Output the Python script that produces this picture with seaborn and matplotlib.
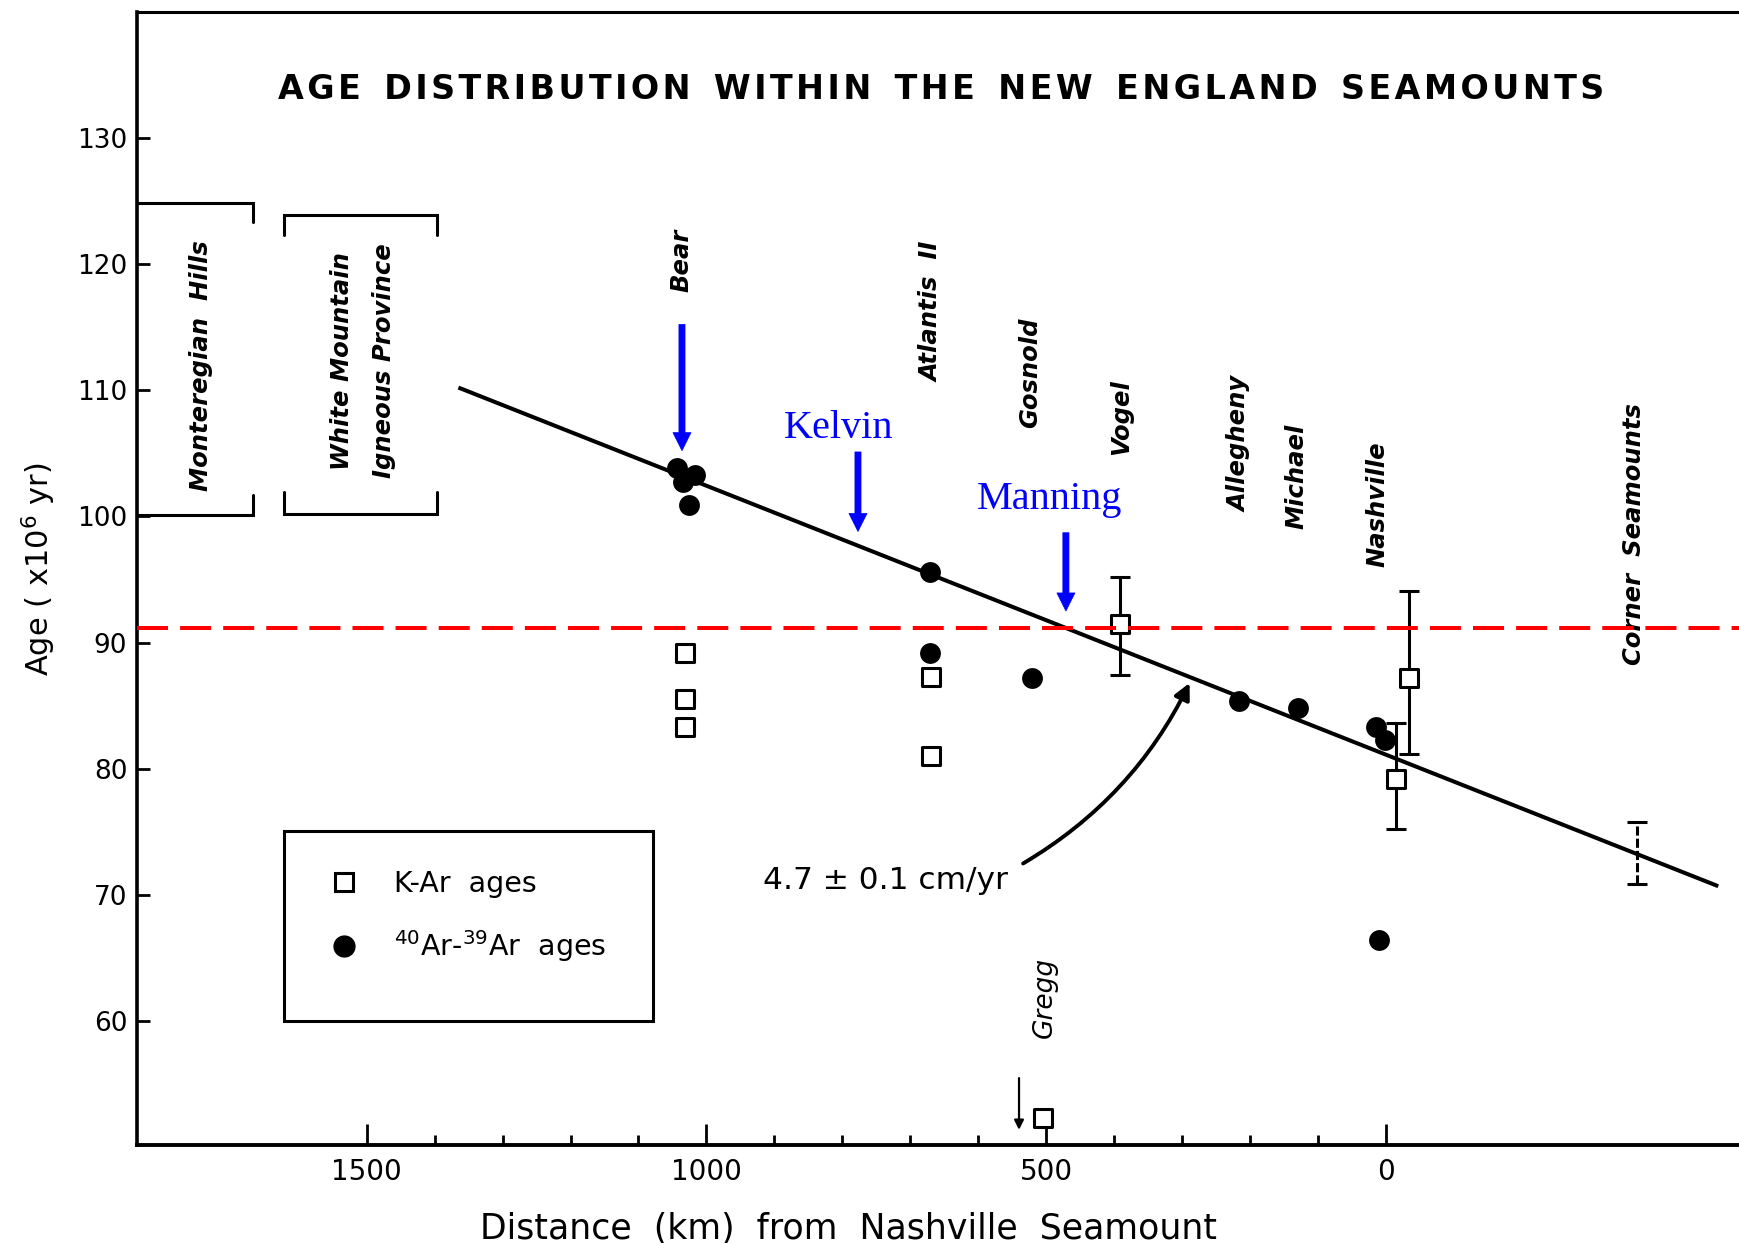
import matplotlib
matplotlib.use("Agg")
import matplotlib.pyplot as plt
from matplotlib.lines import Line2D
from matplotlib.patches import Rectangle
from matplotlib.ticker import FixedLocator, NullFormatter
import seaborn as sns
import pandas as pd

# ---------------- data ----------------
# K-Ar ages (open squares): distance from Nashville Seamount (km), age (Ma)
kar_dist = [1032, 1031, 1031, 670, 669, 392, -15, -34, 505]
kar_age = [89.2, 85.5, 83.3, 87.3, 81.0, 91.5, 79.2, 87.2, 52.3]
# 40Ar-39Ar ages (filled circles)
arar_dist = [1044, 1035, 1017, 1025, 671, 671, 521, 216, 130, 15, 1, 10]
arar_age = [103.8, 102.7, 103.3, 100.9, 95.6, 89.2, 87.2, 85.4, 84.8, 83.3, 82.3, 66.4]
# error bars on some K-Ar ages
err_dist = [392, -15, -34]
err_age = [91.5, 79.2, 87.2]
err_low = [4.1, 4.0, 6.0]
err_high = [3.7, 4.4, 6.9]
# Corner Seamounts age range (no symbol)
corner_dist = [-370]
corner_age = [73.35]
corner_err = [2.45]
# fitted age progression line (4.7 cm/yr)
fit_dist = [1365, -489]
fit_age = [110.2, 70.7]
# red reference age
ref_age = 91.15

# seamount labels
name_text = ["Bear", "Atlantis  II", "Gosnold", "Vogel", "Allegheny",
             "Michael", "Nashville", "Corner  Seamounts"]
name_dist = [1036, 668, 524, 390, 215, 132, 13, -365]
name_age = [120.3, 116.2, 111.4, 107.9, 105.7, 103.2, 101.0, 98.6]

# continental provinces (bracketed age ranges)
mont_top, mont_bottom, mont_right = 124.8, 100.1, 1667
wm_top, wm_bottom, wm_left, wm_right = 123.9, 100.2, 1622, 1397

# blue arrows (added annotations): name, x, arrow tail age, arrow tip age
blue_names = ["", "Kelvin", "Manning"]
blue_dist = [1036, 777, 471]
blue_tail = [115.2, 105.1, 98.7]
blue_tip = [105.2, 98.8, 92.5]
blue_text_dist = [None, 805, 495]
blue_text_age = [None, 106.2, 100.6]

x_ticks_major = [1500, 1000, 500, 0]
x_ticks_minor = [1400, 1300, 1200, 1100, 900, 800, 700, 600, 400, 300, 200, 100]
y_ticks = [60, 70, 80, 90, 100, 110, 120, 130]

title_words = ["AGE", "DISTRIBUTION", "WITHIN", "THE", "NEW", "ENGLAND", "SEAMOUNTS"]

# ---------------- figure ----------------
sns.set_style("white")
plt.rcParams["font.family"] = ["DejaVu Sans"]
plt.rcParams["text.color"] = "black"
plt.rcParams["axes.labelcolor"] = "black"
plt.rcParams["xtick.color"] = "black"
plt.rcParams["ytick.color"] = "black"

fig = plt.figure(figsize=(17.4, 12.43), dpi=100)
ax = fig.add_axes([137 / 1740, 1 - 1145 / 1243, (1740 - 137) / 1740, (1145 - 12) / 1243])
ax.set_xlim(1838, -521)
ax.set_ylim(50.2, 139.95)

for side in ["left", "bottom", "top"]:
    ax.spines[side].set_color("black")
ax.spines["left"].set_linewidth(2.6)
ax.spines["bottom"].set_linewidth(2.8)
ax.spines["top"].set_linewidth(2.2)
ax.spines["right"].set_visible(False)

ax.xaxis.set_major_locator(FixedLocator(x_ticks_major))
ax.xaxis.set_minor_locator(FixedLocator(x_ticks_minor))
ax.xaxis.set_minor_formatter(NullFormatter())
ax.yaxis.set_major_locator(FixedLocator(y_ticks))
ax.tick_params(axis="x", which="major", direction="in", length=15, width=2.0,
               labelsize=20, pad=9, top=False, bottom=True, color="black",
               labelcolor="black")
ax.tick_params(axis="x", which="minor", direction="in", length=7.5, width=2.0,
               top=False, bottom=True, color="black")
ax.tick_params(axis="y", which="major", direction="in", length=9, width=2.0,
               labelsize=19, pad=7, left=True, right=False, color="black",
               labelcolor="black")

# regression line
ax.plot(fit_dist, fit_age, color="black", lw=2.9, zorder=3, solid_capstyle="butt")

# error bars
ax.errorbar(err_dist, err_age, yerr=[err_low, err_high], fmt="none", ecolor="black",
            elinewidth=2.2, capsize=7.2, capthick=2.2, zorder=2)
eb = ax.errorbar(corner_dist, corner_age, yerr=corner_err, fmt="none", ecolor="black",
                 elinewidth=2.2, capsize=7.5, capthick=2.2, zorder=2)
eb[2][0].set_linestyle((0, (3, 1)))

# data points
df_k = pd.DataFrame({"dist": kar_dist, "age": kar_age})
df_a = pd.DataFrame({"dist": arar_dist, "age": arar_age})
sns.scatterplot(data=df_a, x="dist", y="age", marker="o", s=225, color="black",
                edgecolor="black", linewidth=0, ax=ax, zorder=4, legend=False)
sns.scatterplot(data=df_k, x="dist", y="age", marker="s", s=180, color="white",
                edgecolor="black", linewidth=2.2, ax=ax, zorder=4, legend=False)

# red reference line
ax.axhline(ref_age, color="#ff0000", lw=2.9, dashes=(7.7, 3.0), zorder=6)

# brackets
bk = dict(color="black", lw=2.2, zorder=3, solid_joinstyle="miter")
ax.plot([1838, mont_right, mont_right], [mont_top, mont_top, mont_top - 1.5], **bk)
ax.plot([1838, mont_right, mont_right], [mont_bottom, mont_bottom, mont_bottom + 1.6], **bk)
ax.plot([wm_left, wm_left, wm_right, wm_right], [wm_top - 1.6, wm_top, wm_top, wm_top - 1.6], **bk)
ax.plot([wm_left, wm_left, wm_right, wm_right], [wm_bottom + 1.7, wm_bottom, wm_bottom, wm_bottom + 1.7], **bk)

name_kw = dict(rotation=90, ha="center", va="center", fontsize=17.5,
               fontstyle="italic", fontweight="bold", color="black")
ax.text(1744, 111.9, "Monteregian  Hills", **name_kw)
ax.text(1505, 112.3, "White Mountain\nIgneous Province", linespacing=1.95, **name_kw)
for t, d, a in zip(name_text, name_dist, name_age):
    ax.text(d, a, t, **name_kw)
ax.text(502, 61.9, "Gregg", rotation=90, ha="center", va="center", fontsize=19,
        fontstyle="italic", color="black")

# Gregg arrow (age is a minimum)
ax.annotate("", xy=(540, 51.4), xytext=(540, 55.5),
            arrowprops=dict(arrowstyle="-|>", color="black", lw=1.6,
                            mutation_scale=14, shrinkA=0, shrinkB=0), zorder=4)

# rate label and curved arrow
ax.text(917, 70.5, "4.7 \u00b1 0.1 cm/yr", ha="left", va="baseline", fontsize=22.5,
        color="black")
ax.annotate("", xy=(289, 86.8), xytext=(534, 72.5),
            arrowprops=dict(arrowstyle="-|>", color="black", lw=2.8,
                            mutation_scale=24, shrinkA=0, shrinkB=0,
                            connectionstyle="arc3,rad=0.15"), zorder=4)

# blue arrows and labels
for nm, d, t0, t1, td, ta in zip(blue_names, blue_dist, blue_tail, blue_tip,
                                 blue_text_dist, blue_text_age):
    ax.annotate("", xy=(d, t1), xytext=(d, t0),
                arrowprops=dict(arrowstyle="simple,head_length=0.65,head_width=0.65,tail_width=0.22",
                                fc="#0000ff", ec="#0000ff", lw=0.5,
                                mutation_scale=20, shrinkA=0, shrinkB=0), zorder=7)
    if nm:
        ax.text(td, ta, nm, ha="center", va="baseline", fontsize=29,
                family="Liberation Serif", color="#0000ff", zorder=7)

# legend box and legend
ax.add_patch(Rectangle((1079, 60.0), 542, 15.05, fill=False, ec="black", lw=2.2, zorder=3))
handles = [
    Line2D([], [], marker="s", ls="none", mfc="white", mec="black", ms=13.2, mew=2.2),
    Line2D([], [], marker="o", ls="none", mfc="black", mec="black", ms=15),
]
labels = ["K-Ar  ages", "$^{40}$Ar-$^{39}$Ar  ages"]
ax.legend(handles, labels, loc="upper left", bbox_to_anchor=(0.1205, 0.2425),
          frameon=False, fontsize=20.5, handlelength=1.0, handletextpad=1.25,
          labelspacing=1.05, borderpad=0, borderaxespad=0, labelcolor="black")

# title
title = "  ".join("\u200a".join(w) for w in title_words)
ax.text(0.5016, 0.932, title, transform=ax.transAxes, ha="center", va="center",
        fontsize=24, fontweight="bold", color="black")

# axis labels
ax.set_xlabel("Distance  (km)  from  Nashville  Seamount", fontsize=25, va="baseline",
              color="black")
ax.xaxis.set_label_coords(0.444, -0.083)
ax.set_ylabel("Age ( x10$^{6}$ yr)", fontsize=22, va="center", color="black")
ax.yaxis.set_label_coords(-0.061, 0.508)

fig.savefig("out.png", dpi=100)
